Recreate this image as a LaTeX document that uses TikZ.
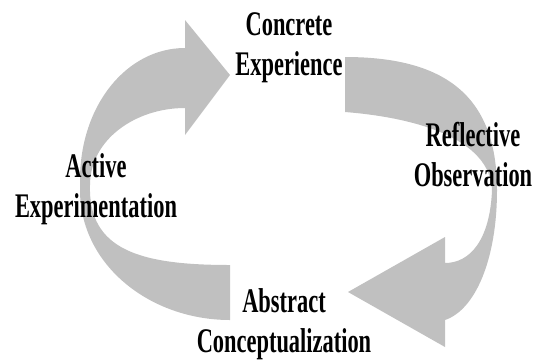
\documentclass[tikz,border=0pt]{standalone}
\usepackage{fontspec}
\usepackage{tikz}
\usetikzlibrary{
	positioning
}
\newfontfamily\stagefont{Liberation Serif}[FakeStretch=0.65]
\definecolor{cyclegray}{RGB}{192,192,192}
\tikzset{
	stage/.style={font={\stagefont\bfseries\fontsize{34.5}{39.5}\selectfont}, align=center, inner sep=0pt, anchor=base},
	band/.style={fill=cyclegray, draw=none}
}

\begin{document}
\begin{tikzpicture}[x=1pt, y=-1pt]
	\useasboundingbox (0,0) rectangle (543,360);

	% left half: active -> concrete, abstract -> active
	\fill[band] (230,75) -- (185,135) -- (185,108)
		.. controls (135,108) and (90,140) .. (90,185)
		.. controls (88,250) and (140,265) .. (230,265)
		-- (230,320)
		.. controls (150,320) and (80,265) .. (80,190)
		-- (80,180)
		.. controls (80,105) and (127,48) .. (185,48)
		-- (185,20) -- cycle;

	% right half: concrete -> reflective -> abstract
	\fill[band] (345,57)
		.. controls (450,57) and (497,100) .. (497,190)
		.. controls (497,260) and (475,310) .. (445,320)
		-- (445,347) -- (348,292) -- (445,237) -- (445,263)
		.. controls (470,263) and (490,240) .. (492,190)
		.. controls (490,140) and (420,118) .. (345,112) -- cycle;

	% anchor is the baseline of the second line
	\node[stage] (concrete) at (289,75) {Concrete\\Experience};
	\node[stage] (reflective) at (473,186) {Reflective\\Observation};
	\node[stage] (abstract) at (284,352) {Abstract\\Conceptualization};
	\node[stage] (active) at (96,217) {Active\\Experimentation};
\end{tikzpicture}
\end{document}
